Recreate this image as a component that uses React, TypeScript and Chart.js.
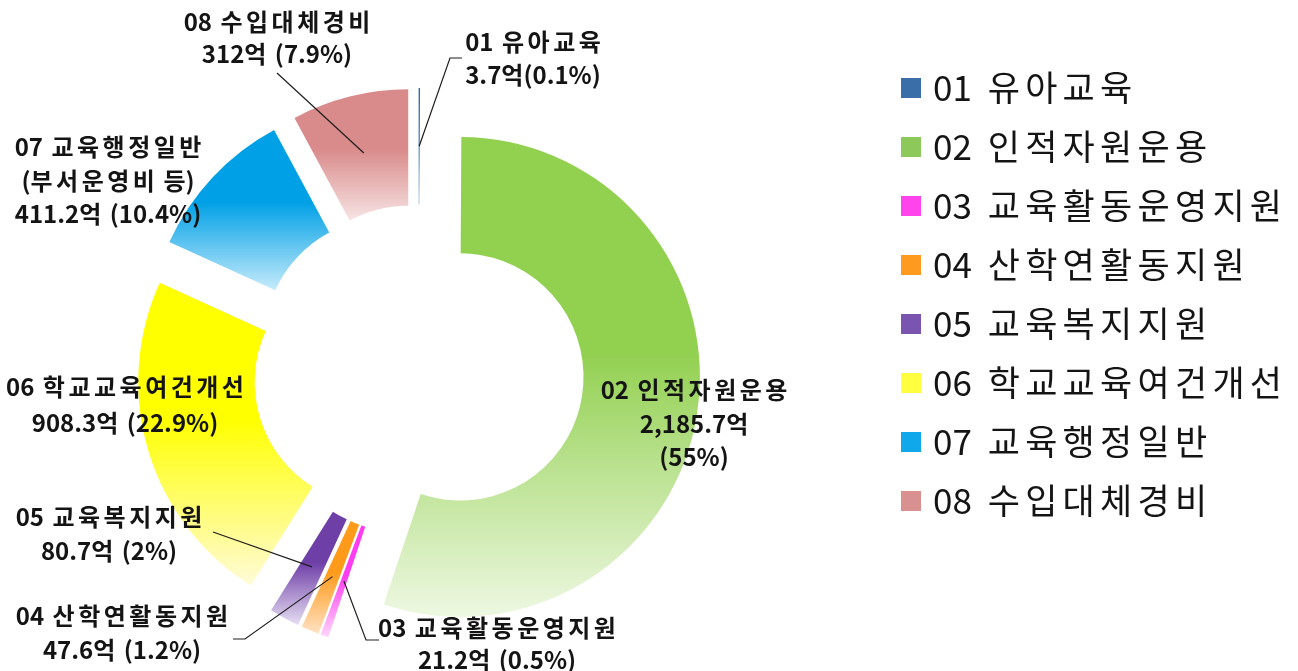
import React, { useEffect, useRef } from 'react';
import { Chart, registerables, ArcElement, DoughnutController } from 'chart.js';

Chart.register(...registerables);

// ---------------- data ----------------
const CATEGORIES = [
  '01 유아교육',
  '02 인적자원운용',
  '03 교육활동운영지원',
  '04 산학연활동지원',
  '05 교육복지지원',
  '06 학교교육여건개선',
  '07 교육행정일반',
  '08 수입대체경비',
];
const AMOUNTS = [3.7, 2185.7, 21.2, 47.6, 80.7, 908.3, 411.2, 312];
const SHARE_LABELS = ['0.1', '55', '0.5', '1.2', '2', '22.9', '10.4', '7.9'];
const LABEL_NOTES = ['', '', '', '', '', '', '(부서운영비 등)', ''];

// ---------------- styles ----------------
const SLICE_COLORS = ['#2e6aa8', '#92d050', '#ff3cf0', '#ff9a1a', '#6f3fa8', '#ffff00', '#00a0e6', '#d98a8a'];
const FADE_COLORS = ['#9ab8d8', '#eef8e2', '#ffd6fa', '#ffe2c4', '#e6def2', '#fffbd8', '#c6ebfb', '#f7e4e4'];
const LEGEND_COLORS = ['#3a6ea8', '#8cc85a', '#ff44ee', '#ff9a20', '#7a55b0', '#ffff40', '#10a8ea', '#d89090'];

const SHIFT = 42; // explode distance (px)
const DX = 40; // canvas is placed 40px left of the page origin
const LABEL_FONT = 'bold 24px "Noto Sans CJK KR"';
const LEGEND_FONT_SIZE = 35;
const LEGEND_FONT = `${LEGEND_FONT_SIZE}px "Noto Sans CJK KR"`;
const TEXT_COLOR = '#141414';

type LabelSpec = {
  x: number;
  y: number;
  mode: 'tight' | 'joined' | 'split';
  gap?: number;
  leader?: number[][];
};

// label placement (page coordinates): layout only
const LABEL_SPECS: LabelSpec[] = [
  { x: 533, y: 42, mode: 'tight', gap: 33, leader: [[462, 58], [450, 58]] },
  { x: 694, y: 390, mode: 'split', gap: 33.5 },
  { x: 497, y: 628, mode: 'joined', gap: 32, leader: [[379, 640], [366, 640]] },
  { x: 122, y: 616, mode: 'joined', gap: 34, leader: [[233, 639], [245, 639]] },
  { x: 109, y: 517, mode: 'joined', gap: 34, leader: [[213, 532]] },
  { x: 125, y: 387, mode: 'joined', gap: 36 },
  { x: 108, y: 147, mode: 'joined', gap: 33.5 },
  { x: 277, y: 22, mode: 'joined', gap: 32, leader: [[277, 73]] },
];

function labelLines(i: number, mode: string): string[] {
  const amount = AMOUNTS[i].toLocaleString('en-US') + '억';
  const share = `(${SHARE_LABELS[i]}%)`;
  const lines = [CATEGORIES[i]];
  if (LABEL_NOTES[i]) lines.push(LABEL_NOTES[i]);
  if (mode === 'tight') lines.push(amount + share);
  else if (mode === 'split') lines.push(amount, share);
  else lines.push(amount + ' ' + share);
  return lines;
}

const isHangul = (ch: string) => /[\uac00-\ud7a3\u3131-\u318e]/.test(ch);

// draws text with extra tracking between Hangul syllables and after spaces
function drawTracked(
  ctx: CanvasRenderingContext2D,
  text: string,
  x: number,
  y: number,
  align: 'left' | 'center',
  hangulGap: number,
  spaceGap: number
) {
  const chars = Array.from(text);
  const parts = chars.map((ch, k) => {
    const next = chars[k + 1];
    let g = 0;
    if (next !== undefined) {
      if (isHangul(ch) && isHangul(next)) g = hangulGap;
      else if (ch === ' ') g = spaceGap;
    }
    return { ch, w: ctx.measureText(ch).width, g };
  });
  const total = parts.reduce((s, p) => s + p.w + p.g, 0);
  let cx = align === 'center' ? x - total / 2 : x;
  ctx.textAlign = 'left';
  parts.forEach((p) => {
    ctx.fillText(p.ch, cx, y);
    cx += p.w + p.g;
  });
}

// ---------------- custom exploded arc ----------------
class ShiftedArc extends ArcElement {
  static id = 'shiftedArc';
  static defaults = { ...(ArcElement as any).defaults, shift: 0 };
  draw(ctx: CanvasRenderingContext2D) {
    const self: any = this;
    const shift = self.options && typeof self.options.shift === 'number' ? self.options.shift : SHIFT;
    const mid = (self.startAngle + self.endAngle) / 2;
    ctx.save();
    ctx.translate(Math.cos(mid) * shift, Math.sin(mid) * shift);
    super.draw(ctx);
    ctx.restore();
  }
}

class ExplodedDoughnutController extends DoughnutController {
  static id = 'explodedDoughnut';
  static defaults = { ...(DoughnutController as any).defaults, dataElementType: 'shiftedArc' };
}

Chart.register(ShiftedArc as any, ExplodedDoughnutController as any);

function sliceGradient(context: any) {
  const i = context.dataIndex;
  const el = context.element;
  if (!el || typeof el.x !== 'number' || !el.outerRadius) return SLICE_COLORS[i];
  const { y, startAngle, endAngle, outerRadius, innerRadius } = el;
  let minY = Infinity;
  let maxY = -Infinity;
  const steps = 60;
  for (let k = 0; k <= steps; k++) {
    const a = startAngle + ((endAngle - startAngle) * k) / steps;
    for (const r of [innerRadius, outerRadius]) {
      const py = y + r * Math.sin(a);
      if (py < minY) minY = py;
      if (py > maxY) maxY = py;
    }
  }
  if (maxY - minY < 1) maxY = minY + 1;
  const g = context.chart.ctx.createLinearGradient(0, minY, 0, maxY);
  g.addColorStop(0, SLICE_COLORS[i]);
  g.addColorStop(0.45, SLICE_COLORS[i]);
  g.addColorStop(1, FADE_COLORS[i]);
  return g;
}

const legendWidthPlugin = {
  id: 'legendWidth',
  beforeLayout(chart: any) {
    // measure wide so the legend box is always capped by maxWidth
    chart.ctx.letterSpacing = '10px';
  },
  afterLayout(chart: any) {
    chart.ctx.letterSpacing = '0px';
  },
};

// legend text drawn with Hangul tracking at the legend's own item positions
const legendTextPlugin = {
  id: 'legendText',
  afterDraw(chart: any) {
    const legend = chart.legend;
    if (!legend || !legend.legendHitBoxes) return;
    const ctx = chart.ctx as CanvasRenderingContext2D;
    ctx.save();
    (ctx as any).letterSpacing = '0px';
    ctx.font = LEGEND_FONT;
    ctx.fillStyle = TEXT_COLOR;
    ctx.textBaseline = 'middle';
    legend.legendHitBoxes.forEach((hb: any, i: number) => {
      const item = legend.legendItems[i];
      if (!item) return;
      drawTracked(ctx, item.text, hb.left + 32, hb.top + LEGEND_FONT_SIZE / 2, 'left', 5.25, 8);
    });
    ctx.restore();
  },
};

const labelPlugin = {
  id: 'sliceLabels',
  afterDatasetsDraw(chart: any) {
    const ctx = chart.ctx as CanvasRenderingContext2D;
    const meta = chart.getDatasetMeta(0);
    ctx.save();
    (ctx as any).letterSpacing = '0px';
    ctx.font = LABEL_FONT;
    ctx.fillStyle = TEXT_COLOR;
    ctx.textBaseline = 'middle';
    ctx.strokeStyle = '#1e1e1e';
    ctx.lineWidth = 1.2;
    LABEL_SPECS.forEach((spec, i) => {
      const arc = meta.data[i];
      if (spec.leader && arc) {
        const mid = (arc.startAngle + arc.endAngle) / 2;
        const rm = (arc.innerRadius + arc.outerRadius) / 2 + SHIFT;
        const ax = arc.x + Math.cos(mid) * rm;
        const ay = arc.y + Math.sin(mid) * rm;
        ctx.beginPath();
        ctx.moveTo(spec.leader[0][0] + DX, spec.leader[0][1]);
        for (let k = 1; k < spec.leader.length; k++) ctx.lineTo(spec.leader[k][0] + DX, spec.leader[k][1]);
        ctx.lineTo(ax, ay);
        ctx.stroke();
      }
      const lines = labelLines(i, spec.mode);
      const gap = spec.gap ?? 33.5;
      lines.forEach((t, k) => drawTracked(ctx, t, spec.x + DX, spec.y + k * gap, 'center', 3.5, 3));
    });
    ctx.restore();
  },
};

export default function App() {
  const canvasRef = useRef<HTMLCanvasElement | null>(null);

  useEffect(() => {
    const canvas = canvasRef.current;
    if (!canvas) return;
    Chart.defaults.font.family = '"Noto Sans CJK KR", "Noto Sans", sans-serif';
    const chart = new Chart(canvas, {
      type: 'explodedDoughnut' as any,
      data: {
        labels: CATEGORIES,
        datasets: [
          {
            data: AMOUNTS,
            backgroundColor: sliceGradient as any,
            borderWidth: 0,
            hoverOffset: 0,
            shift: SHIFT,
          } as any,
        ],
      },
      options: {
        responsive: false,
        animation: false,
        events: [],
        radius: 240,
        cutout: '51.5%',
        layout: { padding: { left: 0, top: 46.5, right: 3, bottom: 6.5 } },
        plugins: {
          tooltip: { enabled: false },
          legend: {
            position: 'right',
            align: 'start',
            maxWidth: 440,
            labels: {
              boxWidth: 20,
              boxHeight: 20,
              padding: 24,
              color: 'rgba(0,0,0,0)',
              font: { family: '"Noto Sans CJK KR"', size: LEGEND_FONT_SIZE, weight: 'normal' },
              generateLabels: () =>
                CATEGORIES.map((c, i) => ({
                  text: c,
                  fillStyle: LEGEND_COLORS[i],
                  strokeStyle: LEGEND_COLORS[i],
                  lineWidth: 0,
                  hidden: false,
                  index: i,
                  fontColor: 'rgba(0,0,0,0)',
                })),
            },
          },
        },
      } as any,
      plugins: [legendWidthPlugin, labelPlugin, legendTextPlugin],
    });
    chart.update();
    return () => chart.destroy();
  }, []);

  return (
    <div
      style={{
        position: 'fixed',
        left: 0,
        top: 0,
        width: 1298,
        height: 671,
        overflow: 'hidden',
        background: '#ffffff',
      }}
    >
      <canvas
        ref={canvasRef}
        width={1360}
        height={700}
        style={{ position: 'absolute', left: -DX, top: 0, width: 1360, height: 700 }}
      />
    </div>
  );
}
